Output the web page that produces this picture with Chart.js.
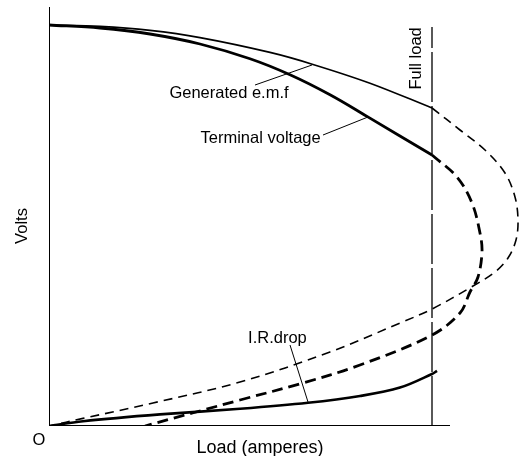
<!DOCTYPE html>
<html>
<head>
<meta charset="utf-8">
<script src="https://cdn.jsdelivr.net/npm/chart.js@4"></script>
<style>
  html, body { margin: 0; padding: 0; background: #fff; }
  #c { display: block; }
</style>
</head>
<body>
<canvas id="c" width="523" height="456"></canvas>
<script>
  // load (arbitrary amperes) / volts
  const emfLoad = [0, 12.75, 25.25, 37.75, 55.25, 66, 80.25, 95.75];
  const emfVolts = [100.25, 99.9, 98.9, 97.1, 93.4, 90.4, 85.7, 79.5];
  const emfBackLoad = [95.75, 102.75, 109, 114, 116.5, 117.25, 116.75, 114.75, 111.5, 106, 95.75, 87.75, 70.25, 47.75, 26, 8.5, 0];
  const emfBackVolts = [79.5, 74, 69, 63.25, 57.25, 51.5, 46.5, 42, 38.5, 35, 29.25, 25.75, 18.5, 11, 5.75, 1.9, 0];

  const termLoad = [0, 12.75, 25.25, 37.75, 50.25, 60.25, 70.25, 79.5, 95.75];
  const termVolts = [100.25, 99.5, 98, 95.5, 91.8, 87.8, 82.8, 77.4, 67.75];
  const termBackLoad = [95.75, 102, 105.75, 107.75, 108.25, 107.25, 105.25, 102.75, 95.75, 77.75, 62.75, 47.75, 24];
  const termBackVolts = [67.75, 62.25, 55.75, 48.25, 43.5, 37.25, 33.5, 28.25, 22.75, 15.25, 10.55, 6.5, 0];

  const irLoad = [0, 8.5, 27.75, 47.75, 64.75, 77.75, 87.75, 95.75, 97];
  const irVolts = [0, 1.2, 2.9, 4.3, 5.8, 7.5, 9.6, 13, 13.8];

  const fullLoad = 95.75;

  function pts(xs, ys) {
    return xs.map((x, i) => ({ x: x, y: ys[i] }));
  }

  function line(data, width, dash, tension) {
    return {
      data: data,
      showLine: true,
      borderColor: '#000',
      borderWidth: width,
      borderDash: dash || [],
      pointRadius: 0,
      tension: tension === undefined ? 0.35 : tension,
      fill: false
    };
  }

  const labelFont = '16.5px "Liberation Sans", Arial, sans-serif';

  const labels = {
    id: 'labels',
    afterDraw(chart) {
      const ctx = chart.ctx;
      const xs = chart.scales.x;
      const ys = chart.scales.y;
      const px = v => xs.getPixelForValue(v);
      const py = v => ys.getPixelForValue(v);
      ctx.save();
      ctx.fillStyle = '#000';
      ctx.font = labelFont;
      ctx.textAlign = 'center';
      ctx.textBaseline = 'alphabetic';
      ctx.fillText('Generated e.m.f', px(45), py(82));
      ctx.fillText('Terminal voltage', px(52.9), py(70.75));
      ctx.fillText('I.R.drop', px(57.1), py(20.75));

      ctx.textBaseline = 'middle';
      ctx.fillText('O', px(0) - 10, py(0) + 14);
      ctx.font = '18px "Liberation Sans", Arial, sans-serif';
      ctx.fillText('Load (amperes)', px(52.75), py(0) + 22);
      ctx.font = labelFont;

      ctx.save();
      ctx.translate(px(0) - 27, py(50));
      ctx.rotate(-Math.PI / 2);
      ctx.fillText('Volts', 0, 0);
      ctx.restore();

      ctx.save();
      ctx.translate(px(fullLoad) - 16, py(91.9));
      ctx.rotate(-Math.PI / 2);
      ctx.fillText('Full load', 0, 0);
      ctx.restore();
      ctx.restore();
    }
  };

  new Chart(document.getElementById('c').getContext('2d'), {
    type: 'scatter',
    data: {
      datasets: [
        // axes
        line([{ x: 0, y: 0 }, { x: 0, y: 104.75 }], 2, [], 0),
        line([{ x: 0, y: 0 }, { x: 100.25, y: 0 }], 2, [], 0),
        // full load
        line([{ x: fullLoad, y: 0 }, { x: fullLoad, y: 99.75 }], 1.3, [50, 4], 0),
        // generated emf
        line(pts(emfLoad, emfVolts), 1.6),
        line(pts(emfBackLoad, emfBackVolts), 1.6, [9, 6]),
        // terminal voltage
        line(pts(termLoad, termVolts), 2.8),
        line(pts(termBackLoad, termBackVolts), 2.8, [11, 6]),
        // IR drop
        line(pts(irLoad, irVolts), 2.6),
        // leader lines
        line([{ x: 51.5, y: 85.25 }, { x: 65.75, y: 90.25 }], 1, [], 0),
        line([{ x: 68.5, y: 72.75 }, { x: 79.75, y: 77.25 }], 1, [], 0),
        line([{ x: 60.25, y: 20.25 }, { x: 64.75, y: 6 }], 1, [], 0)
      ]
    },
    options: {
      responsive: false,
      animation: false,
      layout: { padding: { left: 49, right: 4, top: 7, bottom: 30 } },
      plugins: {
        legend: { display: false },
        tooltip: { enabled: false }
      },
      scales: {
        x: { type: 'linear', min: 0, max: 117.5, display: false },
        y: { type: 'linear', min: 0, max: 104.75, display: false }
      },
      elements: { line: { borderCapStyle: 'butt' } }
    },
    plugins: [labels]
  });
</script>
</body>
</html>
